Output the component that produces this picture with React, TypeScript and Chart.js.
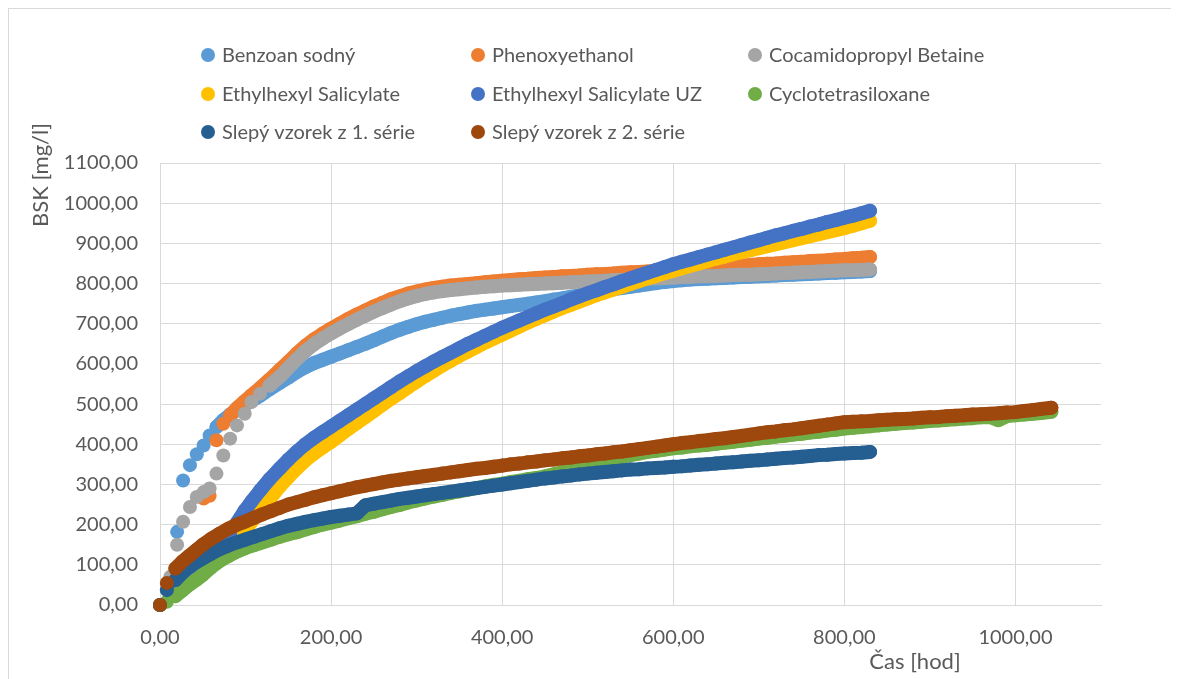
import { useEffect, useRef } from "react";
import { Chart, registerables } from "chart.js";

Chart.register(...registerables);

// Sampling times [h] for the six samples of the main run
const hoursMain = [
  0, 12, 20, 27, 35, 43, 51, 58, 66, 74, 82, 90, 99, 107, 117, 128,
  140, 150, 160, 170, 180, 190, 200, 210, 220, 230,
  240, 250, 260, 270, 280, 290, 300, 310, 320, 330,
  340, 350, 360, 370, 380, 390, 400, 410, 420, 430,
  440, 450, 460, 470, 480, 490, 500, 510, 520, 530,
  540, 550, 560, 570, 580, 590, 600, 610, 620, 630,
  640, 650, 660, 670, 680, 690, 700, 710, 720, 730,
  740, 750, 760, 770, 780, 790, 800, 810, 820, 830,
];

// Sampling times [h] for the blanks and the longer run
const hoursLong = [
  0, 8, 18, 26, 34, 42,
  50, 60, 70, 80, 90, 100, 110, 120, 130, 140,
  150, 160, 170, 180, 190, 200, 210, 220, 230, 240,
  250, 260, 270, 280, 290, 300, 310, 320, 330, 340,
  350, 360, 370, 380, 390, 400, 410, 420, 430, 440,
  450, 460, 470, 480, 490, 500, 510, 520, 530, 540,
  550, 560, 570, 580, 590, 600, 610, 620, 630, 640,
  650, 660, 670, 680, 690, 700, 710, 720, 730, 740,
  750, 760, 770, 780, 790, 800, 810, 820, 830, 840,
  850, 860, 870, 880, 890, 900, 910, 920, 930, 940,
  950, 960, 970, 980, 990, 1000, 1010, 1020, 1030,
  1042,
];

// BSK [mg/l]
const benzoanSodny = [
  0, 60, 182, 310, 348, 375, 397, 422, 443, 460, 474, 486, 498, 508, 521, 537,
  553, 566, 580, 592, 602, 610, 618, 626, 634, 642,
  650, 659, 668, 677, 685, 692, 699, 705, 710, 715,
  720, 724, 728, 732, 735, 738, 741, 744, 747, 750,
  753, 756, 760, 763, 767, 771, 775, 779, 783, 786,
  789, 792, 795, 798, 801, 804, 806, 808, 810, 811,
  812, 813, 814, 815, 816, 817, 818, 819, 820, 821,
  822, 823, 824, 825, 826, 827, 828, 829, 830, 831,
];

const phenoxyethanol = [
  0, 30, 50, 65, 75, 95, 265, 272, 410, 451, 472, 490, 507, 522, 540, 561,
  585, 605, 626, 645, 661, 675, 688, 700, 712, 723,
  733, 743, 752, 761, 768, 775, 780, 785, 789, 792,
  795, 797, 799, 801, 803, 805, 807, 809, 811, 812,
  814, 815, 816, 818, 819, 820, 822, 823, 824, 825,
  827, 828, 829, 830, 831, 833, 834, 835, 837, 838,
  839, 841, 842, 843, 845, 846, 848, 849, 850, 852,
  853, 854, 856, 857, 858, 860, 861, 863, 864, 866,
];

const cocamidopropylBetaine = [
  0, 70, 150, 207, 244, 269, 281, 290, 327, 372, 414, 447, 476, 505, 526, 546,
  568, 590, 612, 632, 649, 663, 676, 688, 699, 710,
  720, 730, 739, 748, 756, 763, 769, 774, 778, 781,
  784, 786, 788, 790, 792, 793, 795, 796, 797, 798,
  799, 800, 801, 802, 803, 804, 805, 806, 807, 808,
  809, 810, 811, 812, 813, 814, 815, 816, 817, 818,
  818, 819, 820, 821, 822, 822, 823, 824, 825, 826,
  827, 828, 829, 830, 831, 832, 833, 833, 834, 835,
];

const ethylhexylSalicylate = [
  0, 20, 35, 45, 55, 68, 80, 92, 105, 120, 138, 160, 185, 207, 235, 263,
  295, 318, 340, 360, 377, 392, 406, 422, 438, 453,
  468, 483, 498, 513, 527, 542, 556, 570, 583, 596,
  608, 620, 631, 642, 653, 663, 673, 683, 693, 703,
  712, 721, 730, 739, 747, 755, 763, 771, 778, 785,
  792, 799, 806, 813, 819, 826, 832, 838, 844, 850,
  856, 862, 867, 873, 878, 883, 888, 893, 898, 903,
  908, 913, 918, 923, 928, 933, 938, 944, 950, 956,
];

const ethylhexylSalicylateUZ = [
  0, 25, 40, 50, 62, 75, 90, 105, 125, 150, 178, 205, 235, 258, 285, 313,
  340, 362, 382, 400, 416, 430, 444, 458, 472, 486,
  500, 514, 528, 542, 556, 569, 582, 594, 606, 617,
  628, 639, 650, 660, 670, 680, 690, 699, 708, 717,
  726, 735, 743, 751, 760, 768, 776, 783, 791, 798,
  806, 813, 820, 827, 834, 841, 848, 854, 860, 866,
  872, 878, 884, 890, 896, 902, 908, 914, 920, 925,
  931, 936, 942, 947, 953, 958, 964, 969, 975, 981,
];

const cyclotetrasiloxane = [
  0, 8, 22, 36, 50, 62,
  75, 94, 110, 122, 133, 142, 149, 156, 163, 170,
  176, 181, 188, 194, 200, 205, 210, 216, 221, 227,
  232, 238, 244, 249, 255, 260, 265, 270, 274, 279,
  283, 287, 291, 295, 299, 302, 306, 309, 313, 316,
  320, 325, 330, 335, 340, 345, 351, 357, 363, 369,
  373, 377, 381, 384, 387, 390, 392, 395, 397, 399,
  401, 404, 406, 409, 411, 414, 416, 419, 421, 424,
  426, 429, 431, 434, 436, 439, 441, 443, 445, 447,
  449, 451, 453, 454, 456, 458, 459, 461, 462, 464,
  465, 467, 468, 460, 470, 472, 474, 476, 478,
  481,
];

const slepy1 = [
  0, 37, 62, 80, 95, 106,
  116, 128, 139, 148, 156, 163, 170, 177, 184, 191,
  197, 202, 207, 211, 215, 219, 222, 225, 228, 248,
  252, 256, 260, 264, 267, 270, 273, 276, 279, 282,
  285, 288, 291, 294, 297, 300, 303, 306, 309, 312,
  315, 317, 320, 322, 325, 327, 329, 331, 333, 335,
  337, 338, 340, 341, 342, 344, 345, 347, 349, 350,
  352, 354, 355, 357, 359, 360, 362, 364, 366, 367,
  369, 371, 373, 374, 376, 377, 378, 379, 381,
];

const slepy2 = [
  0, 55, 91, 108, 122, 136,
  150, 165, 178, 190, 200, 208, 217, 226, 234, 242,
  250, 256, 262, 268, 273, 278, 283, 288, 293, 297,
  301, 305, 309, 312, 315, 318, 321, 324, 327, 330,
  333, 336, 339, 341, 344, 347, 350, 352, 355, 357,
  360, 362, 365, 367, 370, 372, 375, 377, 380, 382,
  385, 388, 391, 394, 397, 400, 403, 405, 408, 410,
  413, 415, 418, 421, 424, 427, 430, 432, 435, 437,
  440, 443, 446, 449, 452, 455, 456, 457, 458, 460,
  461, 462, 463, 464, 466, 467, 468, 470, 471, 472,
  474, 475, 476, 477, 479, 480, 483, 485, 488,
  491,
];

const seriesNames = [
  "Benzoan sodný",
  "Phenoxyethanol",
  "Cocamidopropyl Betaine",
  "Ethylhexyl Salicylate",
  "Ethylhexyl Salicylate UZ",
  "Cyclotetrasiloxane",
  "Slepý vzorek z 1. série",
  "Slepý vzorek z 2. série",
];

const seriesColors = [
  "#5B9BD5",
  "#ED7D31",
  "#A5A5A5",
  "#FFC000",
  "#4472C4",
  "#70AD47",
  "#255E91",
  "#9E480E",
];

const seriesValues = [
  benzoanSodny,
  phenoxyethanol,
  cocamidopropylBetaine,
  ethylhexylSalicylate,
  ethylhexylSalicylateUZ,
  cyclotetrasiloxane,
  slepy1,
  slepy2,
];

const seriesHours = [
  hoursMain,
  hoursMain,
  hoursMain,
  hoursMain,
  hoursMain,
  hoursLong,
  hoursLong,
  hoursLong,
];

// Hour from which the dense markers of each series read as one band
const bandFrom = [66, 82, 128, 90, 85, 18, 18, 18];

const xTitle = "Čas [hod]";
const yTitle = "BSK [mg/l]";

const TEXT = "#595959";
const GRID = "#D9D9D9";
const FONT = "Lato, 'Open Sans', sans-serif";
const MARKER_R = 7;

const fmt = (v: number) => v.toFixed(2).replace(".", ",");

// Three-column legend above the plot plus the two axis titles
const decorPlugin = {
  id: "decor",
  afterDraw(chart: Chart) {
    const ctx = chart.ctx;
    ctx.save();
    ctx.font = `20px ${FONT}`;
    ctx.fillStyle = TEXT;
    ctx.textBaseline = "middle";
    ctx.textAlign = "left";
    const colX = [199, 469, 746];
    const rowY = [46, 85, 123];
    seriesNames.forEach((name, i) => {
      const cx = colX[i % 3];
      const cy = rowY[Math.floor(i / 3)];
      ctx.beginPath();
      ctx.fillStyle = seriesColors[i];
      ctx.arc(cx, cy, MARKER_R, 0, Math.PI * 2);
      ctx.fill();
      ctx.fillStyle = TEXT;
      ctx.fillText(name, cx + 14, cy + 1);
    });

    ctx.font = `22px ${FONT}`;
    ctx.textAlign = "center";
    ctx.fillText(xTitle, 906, 653);

    ctx.translate(32, 166);
    ctx.rotate(-Math.PI / 2);
    ctx.fillText(yTitle, 0, 0);
    ctx.restore();
  },
};

export default function App() {
  const canvasRef = useRef<HTMLCanvasElement | null>(null);

  useEffect(() => {
    document.documentElement.style.overflow = "hidden";
    if (!canvasRef.current) return;
    const datasets = seriesNames.map((name, i) => {
      const color = seriesColors[i];
      return {
        label: name,
        data: seriesValues[i].map((v, j) => ({ x: seriesHours[i][j], y: v })),
        backgroundColor: color,
        borderColor: color,
        pointRadius: MARKER_R,
        pointBorderWidth: 0,
        pointHoverRadius: MARKER_R,
        // a marker-wide stroke fills the small gaps between overlapping
        // markers; sparse early markers stay separate dots
        showLine: true,
        borderWidth: MARKER_R * 2,
        borderCapStyle: "round" as const,
        borderJoinStyle: "round" as const,
        segment: {
          borderColor: (ctx: any) => {
            const dx = ctx.p1.x - ctx.p0.x;
            const dy = ctx.p1.y - ctx.p0.y;
            const early = ctx.p0.parsed.x < bandFrom[i];
            return early || Math.hypot(dx, dy) > 20 ? "rgba(0,0,0,0)" : color;
          },
        },
        clip: false as const,
        order: seriesNames.length - i,
      };
    });

    const chart = new Chart(canvasRef.current, {
      type: "scatter",
      data: { datasets },
      options: {
        responsive: false,
        animation: false,
        events: [],
        layout: { padding: { left: 0, top: 154, right: 78, bottom: 0 } },
        plugins: {
          legend: { display: false },
          tooltip: { enabled: false },
        },
        scales: {
          x: {
            type: "linear",
            min: 0,
            max: 1100,
            afterFit: (s: any) => {
              s.height = 74;
            },
            afterBuildTicks: (s: any) => {
              s.ticks = s.ticks.filter((t: any) => t.value % 200 === 0);
            },
            ticks: {
              stepSize: 200,
              padding: 21,
              color: TEXT,
              font: { family: FONT, size: 20 },
              maxRotation: 0,
              callback: (v: any) => fmt(Number(v)),
            },
            grid: { color: GRID, lineWidth: 1, drawTicks: false },
            border: { color: GRID, width: 1 },
          },
          y: {
            type: "linear",
            min: 0,
            max: 1100,
            afterFit: (s: any) => {
              s.width = 151;
            },
            ticks: {
              stepSize: 100,
              padding: 22,
              color: TEXT,
              font: { family: FONT, size: 20 },
              callback: (v: any) => fmt(Number(v)),
            },
            grid: { color: GRID, lineWidth: 1, drawTicks: false },
            border: { color: GRID, width: 1 },
          },
        },
      },
      plugins: [decorPlugin],
    });
    return () => chart.destroy();
  }, []);

  return (
    <div
      style={{
        width: 1171,
        height: 671,
        boxSizing: "border-box",
        borderLeft: `1px solid ${GRID}`,
        borderTop: `1px solid ${GRID}`,
        background: "#fff",
      }}
    >
      <canvas
        ref={canvasRef}
        width={1170}
        height={670}
        style={{ display: "block", width: 1170, height: 670 }}
      />
    </div>
  );
}
